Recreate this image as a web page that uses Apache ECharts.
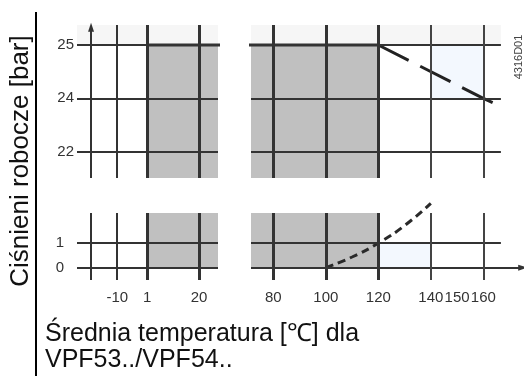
<!DOCTYPE html>
<html>
<head>
<meta charset="utf-8">
<script src="https://cdn.jsdelivr.net/npm/echarts@6/dist/echarts.min.js"></script>
<style>
  html, body, #main { width: 100%; height: 100%; margin: 0; background: #fff; }
</style>
</head>
<body>
<div id="main"></div>
<script>
// broken temperature axis: low part and high part
var lowTempTicks = [-10, 1, 20];
var highTempTicks = [80, 100, 120, 140, 160];
var highTempLabels = [80, 100, 120, 140, 150, 160];
// pressure ticks; the upper part is drawn evenly spaced
var highPressTicks = [22, 24, 25];
var lowPressTicks = [0, 1];
// max working pressure vs temperature
var limitTemps = [1, 120];
var limitPress = [25, 25];
var derateTemps = [120, 160, 164.5];
var deratePress = [25, 24, 23.8];
// vapour pressure curve (bottom part)
var vapourTemps = [100, 110, 120, 130, 140];
var vapourPress = [0, 0.43, 0.99, 1.7, 2.6];

// upper pressure scale is schematic: map bar -> tick index
function level(p) {
  var t = highPressTicks;
  var i = p >= t[1] ? 1 : 0;
  return i + (p - t[i]) / (t[i + 1] - t[i]);
}
function pairs(xs, ys, f) {
  return xs.map(function (x, i) { return [x, f ? f(ys[i]) : ys[i]]; });
}

var lowX = [-24.75, 26.95];
var highX = [71.5, 175.5];
var highXEnd = 166.7;
var arrowX = -19.6;
var topY = [-0.494, 2.375];
var botY = [-0.5, 2.21];

var FONT = 'Liberation Sans';
var DARK = '#333';
var GRAY = '#c0c0c0';

function vline(x, w, c) {
  return { xAxis: x, lineStyle: { width: w, color: c || DARK } };
}
function hline(y, w) {
  return { yAxis: y, lineStyle: { width: w || 2, color: DARK } };
}
function hseg(x0, x1, y, w) {
  return [{ coord: [x0, y] }, { coord: [x1, y], lineStyle: { width: w || 2, color: DARK } }];
}
function rect(x0, y0, x1, y1, color) {
  return [{ coord: [x0, y0], itemStyle: { color: color } }, { coord: [x1, y1] }];
}
function marks(lines, areas) {
  return {
    markLine: {
      silent: true, animation: false, symbol: ['none', 'none'],
      label: { show: false }, lineStyle: { type: 'solid' }, data: lines
    },
    markArea: { silent: true, animation: false, data: areas }
  };
}
function thinAxis(idx, min, max) {
  return {
    type: 'value', gridIndex: idx, min: min, max: max,
    axisLine: { show: false }, axisTick: { show: false },
    splitLine: { show: false }, axisLabel: { show: false }
  };
}
var labelStyle = { fontFamily: FONT, fontSize: 15, color: DARK };

var xAxes = [
  thinAxis(0, lowX[0], lowX[1]),
  thinAxis(1, highX[0], highX[1]),
  thinAxis(2, lowX[0], lowX[1]),
  thinAxis(3, highX[0], highX[1])
];
xAxes[2].axisLabel = Object.assign({ show: true, margin: 10, customValues: lowTempTicks }, labelStyle);
xAxes[3].axisLabel = Object.assign({ show: true, margin: 10, customValues: highTempLabels }, labelStyle);

var yAxes = [
  thinAxis(0, topY[0], topY[1]),
  thinAxis(1, topY[0], topY[1]),
  thinAxis(2, botY[0], botY[1]),
  thinAxis(3, botY[0], botY[1])
];
yAxes[0].axisLabel = Object.assign({
  show: true, margin: 3, customValues: highPressTicks.map(level),
  formatter: function (v) { return String(highPressTicks[Math.round(v)]); }
}, labelStyle);
yAxes[2].axisLabel = Object.assign({ show: true, margin: 13, customValues: lowPressTicks }, labelStyle);

var topLevels = highPressTicks.map(level);

var series = [
  // top left
  Object.assign({
    type: 'line', xAxisIndex: 0, yAxisIndex: 0, symbol: 'none', silent: true,
    data: pairs(limitTemps, limitPress, level),
    lineStyle: { width: 3, color: DARK }, z: 3
  }, marks(
    topLevels.map(function (l) { return hline(l); }).concat([
      vline(lowTempTicks[0], 2),
      vline(lowTempTicks[1], 3),
      vline(lowTempTicks[2], 3),
      [{ coord: [arrowX, topY[0]] },
       { coord: [arrowX, topY[1] - 0.04], symbol: 'triangle', symbolSize: [6, 9],
         lineStyle: { width: 2, color: DARK } }]
    ]),
    [
      rect(lowX[0], level(25), lowX[1], topY[1], '#f6f6f6'),
      rect(limitTemps[0], topY[0], lowX[1], level(25), GRAY)
    ]
  )),
  // top right
  Object.assign({
    type: 'line', xAxisIndex: 1, yAxisIndex: 1, symbol: 'none', silent: true,
    data: pairs(limitTemps, limitPress, level),
    lineStyle: { width: 3, color: DARK }, z: 3
  }, marks(
    topLevels.map(function (l) { return hseg(highX[0], highXEnd, l); }).concat([
      vline(80, 3), vline(100, 3), vline(120, 3),
      vline(140, 2, '#444'), vline(160, 2, '#444')
    ]),
    [
      rect(highX[0], level(25), highXEnd, topY[1], '#f6f6f6'),
      rect(highX[0], topY[0], limitTemps[1], level(25), GRAY),
      rect(140, level(24), 160, level(25), '#f3f8fe')
    ]
  )),
  {
    type: 'line', xAxisIndex: 1, yAxisIndex: 1, symbol: 'none', silent: true,
    data: pairs(derateTemps, deratePress, level),
    lineStyle: { width: 3, color: '#222', type: [34, 13] }, z: 4
  },
  // bottom left
  Object.assign({
    type: 'line', xAxisIndex: 2, yAxisIndex: 2, symbol: 'none', silent: true, data: []
  }, marks(
    lowPressTicks.map(function (p) { return hline(p); }).concat([
      vline(lowTempTicks[0], 2),
      vline(lowTempTicks[1], 3),
      vline(lowTempTicks[2], 3),
      [{ coord: [arrowX, botY[0]] }, { coord: [arrowX, botY[1]], lineStyle: { width: 2, color: DARK } }]
    ]),
    [rect(limitTemps[0], 0, lowX[1], botY[1], GRAY)]
  )),
  // bottom right
  Object.assign({
    type: 'line', xAxisIndex: 3, yAxisIndex: 3, symbol: 'none', silent: true,
    data: pairs(vapourTemps, vapourPress), smooth: true, clip: false,
    lineStyle: { width: 3, color: '#2a2a2a', type: [8, 5] }, z: 4
  }, marks(
    [
      hseg(highX[0], highXEnd, 1),
      [{ coord: [highX[0], 0] },
       { coord: [highX[1] - 0.5, 0], symbol: 'triangle', symbolSize: [6, 9],
         lineStyle: { width: 2, color: DARK } }],
      vline(80, 3), vline(100, 3), vline(120, 3),
      vline(140, 2, '#444'), vline(160, 2, '#444')
    ],
    [
      rect(highX[0], 0, limitTemps[1], botY[1], GRAY),
      rect(120, 0, 140, 1, '#f3f8fe')
    ]
  ))
];

var chart = echarts.init(document.getElementById('main'));
chart.setOption({
  animation: false,
  backgroundColor: '#fff',
  grid: [
    { left: 77, top: 25, width: 141, height: 153 },
    { left: 251, top: 25, width: 273, height: 153 },
    { left: 77, top: 213, width: 141, height: 67 },
    { left: 251, top: 213, width: 273, height: 67 }
  ],
  xAxis: xAxes,
  yAxis: yAxes,
  series: series,
  graphic: [
    { type: 'line', shape: { x1: 36, y1: 12, x2: 36, y2: 376 }, style: { stroke: '#000', lineWidth: 2 } },
    {
      type: 'text', x: 21, y: 161, rotation: Math.PI / 2,
      style: { text: 'Ciśnieni robocze [bar]', font: '26px "Liberation Sans"', fill: '#111', align: 'center', verticalAlign: 'middle' }
    },
    {
      type: 'text', x: 45, y: 321,
      style: { text: 'Średnia temperatura [℃] dla\nVPF53../VPF54..', font: '25px "Liberation Sans"', fill: '#111', lineHeight: 26, verticalAlign: 'top' }
    },
    {
      type: 'text', x: 519, y: 57, rotation: Math.PI / 2,
      style: { text: '4316D01', font: '11px "Liberation Sans"', fill: '#444', align: 'center', verticalAlign: 'middle' }
    }
  ]
});
</script>
</body>
</html>
